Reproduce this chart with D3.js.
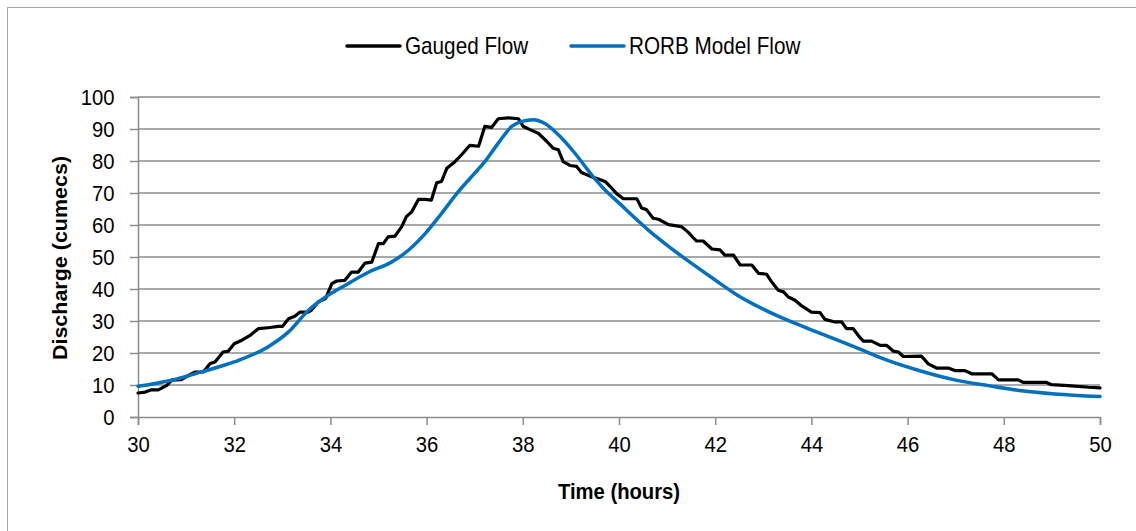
<!DOCTYPE html>
<html>
<head>
<meta charset="utf-8">
<script src="https://cdn.jsdelivr.net/npm/d3@7"></script>
<style>
  html, body { margin: 0; padding: 0; background: #fff; }
  svg { display: block; font-family: "Liberation Sans", Arial, sans-serif; }
</style>
</head>
<body>
<svg id="chart" width="1136" height="531"></svg>
<script>
// Gauged hydrograph (hours, cumecs)
const gaugedTime = [
  30.0, 30.15, 30.28, 30.42, 30.6, 30.7, 30.9, 31.05, 31.18, 31.36,
  31.5, 31.6, 31.77, 31.88, 32.0, 32.16, 32.33, 32.5, 32.7, 32.92,
  33.0, 33.13, 33.26, 33.37, 33.54, 33.6, 33.75, 33.9, 34.03, 34.13,
  34.3, 34.44, 34.58, 34.72, 34.86, 35.0, 35.1, 35.2, 35.34, 35.48,
  35.58, 35.69, 35.83, 35.97, 36.1, 36.21, 36.31, 36.42, 36.59, 36.76,
  36.9, 37.08, 37.21, 37.35, 37.49, 37.7, 37.91, 38.01, 38.15, 38.32,
  38.5, 38.63, 38.74, 38.84, 38.98, 39.12, 39.22, 39.43, 39.57, 39.71,
  39.85, 39.95, 40.09, 40.37, 40.47, 40.57, 40.71, 40.82, 41.03, 41.3,
  41.44, 41.61, 41.75, 41.93, 42.1, 42.2, 42.38, 42.52, 42.76, 42.9,
  43.07, 43.17, 43.31, 43.42, 43.52, 43.66, 43.8, 44.0, 44.18, 44.28,
  44.49, 44.63, 44.73, 44.87, 45.0, 45.08, 45.25, 45.43, 45.56, 45.7,
  45.81, 45.91, 46.29, 46.43, 46.6, 46.85, 46.98, 47.19, 47.33, 47.75,
  47.89, 48.3, 48.41, 48.89, 48.99, 49.34, 49.76, 50.0
];
const gaugedFlow = [
  7.5, 7.8, 8.5, 8.5, 9.9, 11.5, 11.7, 13.0, 14.0, 14.1,
  16.7, 17.2, 20.3, 20.6, 22.9, 24.0, 25.5, 27.6, 27.9, 28.3,
  28.3, 30.7, 31.5, 32.8, 32.8, 33.3, 36.0, 37.0, 41.7, 42.5,
  42.7, 45.3, 45.3, 48.1, 48.4, 54.2, 54.2, 56.3, 56.5, 59.4,
  62.6, 64.1, 68.0, 68.0, 67.8, 73.2, 73.6, 77.7, 79.8, 82.5,
  84.9, 84.6, 90.8, 90.5, 93.2, 93.5, 93.2, 90.8, 89.8, 88.7,
  86.1, 84.0, 83.5, 79.8, 78.6, 78.3, 76.4, 75.1, 74.4, 73.6,
  71.5, 69.8, 68.2, 68.2, 65.3, 64.8, 62.1, 61.8, 60.1, 59.5,
  57.7, 55.0, 55.0, 52.5, 52.2, 50.6, 50.6, 47.5, 47.5, 44.9,
  44.6, 42.3, 39.6, 39.1, 37.5, 36.5, 34.7, 32.8, 32.6, 30.5,
  29.7, 29.7, 27.6, 27.6, 25.0, 23.7, 23.7, 22.4, 22.4, 20.6,
  20.3, 18.9, 19.0, 16.6, 15.3, 15.3, 14.5, 14.5, 13.5, 13.5,
  11.6, 11.6, 10.8, 10.8, 10.1, 9.8, 9.3, 9.1
];

// RORB model hydrograph (hours, cumecs)
const modelTime = [
  30.0, 30.7, 31.32, 32.0, 32.7, 33.13, 33.54, 33.9, 34.3, 34.8,
  35.27, 35.62, 35.97, 36.31, 36.66, 37.0, 37.21, 37.49, 37.77, 37.98,
  38.22, 38.46, 38.74, 39.08, 39.43, 39.78, 40.02, 40.26, 40.61, 40.82,
  41.03, 41.51, 42.0, 42.48, 43.04, 43.59, 44.21, 44.91, 45.6, 46.29,
  46.98, 47.68, 48.37, 49.06, 50.0
];
const modelFlow = [
  9.6, 11.5, 14.1, 17.2, 21.9, 26.6, 33.3, 37.5, 41.1, 45.3,
  48.4, 52.1, 57.3, 63.6, 70.4, 76.2, 79.8, 85.6, 90.8, 92.4,
  92.9, 91.7, 88.2, 82.5, 75.7, 69.9, 66.6, 63.2, 58.4, 55.8,
  53.3, 48.0, 42.8, 37.9, 33.4, 29.7, 26.0, 21.8, 17.6, 14.3,
  11.6, 9.8, 8.2, 7.2, 6.4
];

const xTicks = [30, 32, 34, 36, 38, 40, 42, 44, 46, 48, 50];
const yTicks = [0, 10, 20, 30, 40, 50, 60, 70, 80, 90, 100];

const seriesNames = ["Gauged Flow", "RORB Model Flow"];
const seriesColors = ["#000000", "#0070C0"];

const svg = d3.select("#chart");
const W = 1136, H = 531;
const plot = { left: 138, right: 1100, top: 97, bottom: 417 };
const gridColor = "#8c8c8c";
const fontSize = 22.5;
const squeeze = 0.9; // narrow-looking glyphs

svg.append("rect").attr("width", W).attr("height", H).attr("fill", "#fff");
// outer chart frame
svg.append("rect")
  .attr("x", 7.5).attr("y", 7.5)
  .attr("width", W + 20).attr("height", H + 20)
  .attr("fill", "none").attr("stroke", "#a6a6a6").attr("stroke-width", 1);

const x = d3.scaleLinear().domain([30, 50]).range([plot.left, plot.right]);
const y = d3.scaleLinear().domain([0, 100]).range([plot.bottom, plot.top]);

// horizontal gridlines
svg.append("g")
  .selectAll("line")
  .data(yTicks.filter(v => v > 0))
  .join("line")
  .attr("x1", plot.left).attr("x2", plot.right)
  .attr("y1", d => y(d)).attr("y2", d => y(d))
  .attr("stroke", gridColor).attr("stroke-width", 1.5);

// y axis
const yAxis = svg.append("g")
  .attr("transform", `translate(${plot.left},0)`)
  .call(d3.axisLeft(y).tickValues(yTicks).tickSize(8).tickPadding(18).tickFormat(d3.format("d")));
yAxis.select(".domain").attr("stroke", gridColor).attr("stroke-width", 1.5);
yAxis.selectAll(".tick line").attr("stroke", gridColor).attr("stroke-width", 1.5);
yAxis.selectAll(".tick text")
  .attr("font-size", fontSize).attr("fill", "#000")
  .attr("transform", `scale(${squeeze},1)`)
  .attr("font-family", "Liberation Sans, Arial, sans-serif");

// x axis
const xAxis = svg.append("g")
  .attr("transform", `translate(0,${plot.bottom})`)
  .call(d3.axisBottom(x).tickValues(xTicks).tickSize(8).tickPadding(11).tickFormat(d3.format("d")));
xAxis.select(".domain").attr("stroke", gridColor).attr("stroke-width", 1.5);
xAxis.selectAll(".tick line").attr("stroke", gridColor).attr("stroke-width", 1.5);
xAxis.selectAll(".tick text")
  .attr("font-size", fontSize).attr("fill", "#000")
  .attr("transform", `scale(${squeeze},1)`)
  .attr("font-family", "Liberation Sans, Arial, sans-serif");

// axis titles
svg.append("text")
  .attr("transform", `translate(619,499) scale(${squeeze},1)`)
  .attr("text-anchor", "middle")
  .attr("font-size", fontSize).attr("font-weight", "bold")
  .text("Time (hours)");
svg.append("text")
  .attr("transform", `translate(67,258) rotate(-90) scale(1,${squeeze})`)
  .attr("text-anchor", "middle")
  .attr("font-size", 21.5).attr("font-weight", "bold")
  .text("Discharge (cumecs)");

// series lines
const gaugedPts = gaugedTime.map((t, i) => [t, gaugedFlow[i]]);
const modelPts = modelTime.map((t, i) => [t, modelFlow[i]]);

svg.append("path")
  .datum(gaugedPts)
  .attr("d", d3.line().x(d => x(d[0])).y(d => y(d[1])).curve(d3.curveLinear))
  .attr("fill", "none").attr("stroke", seriesColors[0])
  .attr("stroke-width", 3.2).attr("stroke-linejoin", "round").attr("stroke-linecap", "round");

svg.append("path")
  .datum(modelPts)
  .attr("d", d3.line().x(d => x(d[0])).y(d => y(d[1])).curve(d3.curveMonotoneX))
  .attr("fill", "none").attr("stroke", seriesColors[1])
  .attr("stroke-width", 3.5).attr("stroke-linejoin", "round").attr("stroke-linecap", "round");

// legend
const legend = svg.append("g");
const legendItems = [
  { name: seriesNames[0], color: seriesColors[0], x0: 347 },
  { name: seriesNames[1], color: seriesColors[1], x0: 571 }
];
legendItems.forEach(it => {
  legend.append("line")
    .attr("x1", it.x0).attr("x2", it.x0 + 53)
    .attr("y1", 46).attr("y2", 46)
    .attr("stroke", it.color).attr("stroke-width", 3.5).attr("stroke-linecap", "round");
  legend.append("text")
    .attr("transform", `translate(${it.x0 + 58},54) scale(${squeeze},1)`)
    .attr("font-size", fontSize + 0.5).attr("fill", "#000")
    .text(it.name);
});
</script>
</body>
</html>
